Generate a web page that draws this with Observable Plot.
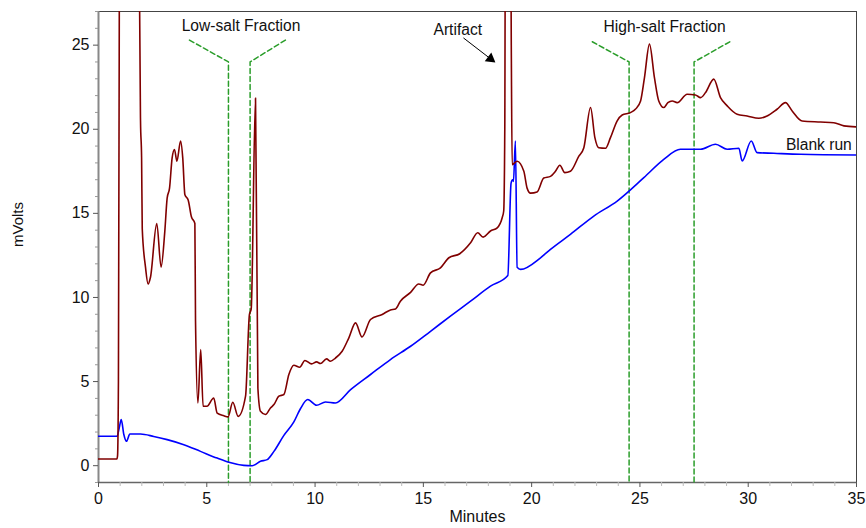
<!DOCTYPE html>
<html>
<head>
<meta charset="utf-8">
<script src="https://cdn.jsdelivr.net/npm/d3@7"></script>
<script src="https://cdn.jsdelivr.net/npm/@observablehq/plot@0.6"></script>
<style>
  html, body { margin: 0; padding: 0; background: #fff; }
  #chart { width: 866px; height: 528px; }
</style>
</head>
<body>
<div id="chart"></div>
<script>
// ---- data (minutes, mVolts) ----
const sampleMinutes = [0,0.85,0.88,0.92,0.96,1.0,1.85,1.9,1.94,1.99,2.02,2.17,2.29,2.4,2.69,2.89,3.06,3.17,3.28,3.40,3.51,3.62,3.79,3.89,3.99,4.14,4.29,4.45,4.48,4.59,4.72,4.83,5.01,5.32,5.48,5.79,5.98,6.2,6.45,6.79,6.97,7.05,7.25,7.36,7.48,7.71,7.94,8.1,8.33,8.56,8.79,9.02,9.29,9.53,9.84,10.07,10.25,10.53,10.71,10.94,11.25,11.56,11.87,12.17,12.56,13.1,13.48,13.71,13.94,14.41,14.79,14.99,15.33,15.79,16.18,16.68,17.18,17.51,17.76,18.1,18.41,18.64,18.71,18.76,18.8,19.0,19.06,19.1,19.33,19.64,19.79,19.95,20.25,20.56,20.87,21.1,21.3,21.53,21.79,22.18,22.41,22.72,22.92,23.1,23.41,23.64,23.95,24.18,24.56,24.8,25.03,25.21,25.44,25.67,25.87,26.1,26.29,26.49,26.72,27.18,27.56,27.8,28.03,28.41,28.72,29.03,29.49,29.95,30.49,30.87,31.33,31.72,32.03,32.49,33.34,33.95,34.42,35];
const sampleMv = [0.4,0.4,0.6,5,27,60,60,27,20.5,18.3,14.1,11.8,10.8,11.2,14.4,11.8,13.9,15.9,16.5,18.3,18.8,18.1,19.3,18.3,16.1,15.8,14.8,14.4,8.6,3.73,6.9,3.53,3.53,4.02,3.13,2.97,2.9,3.77,2.93,4.13,9.0,9.3,21.85,4.6,3.23,3.04,3.43,3.63,4.13,4.23,5.42,5.97,5.85,6.25,6.05,6.17,6.07,6.35,6.21,6.4,6.8,7.6,8.49,7.65,8.69,8.99,9.26,9.32,9.78,10.3,10.8,10.73,11.46,11.76,12.36,12.6,13.25,13.85,13.59,13.95,14.14,14.74,15.14,20,40,40,25,17.9,18.1,17.5,16.5,16.2,16.27,17.1,17.2,17.5,17.86,17.42,17.5,18.4,18.9,21.29,19.5,18.9,18.87,19.5,20.5,20.85,20.99,21.2,21.68,23.07,25.06,23.07,21.68,21.29,21.58,21.68,21.58,22.08,22.04,21.88,22.18,22.98,21.88,21.39,20.89,20.79,20.65,20.79,21.19,21.58,21.09,20.49,20.43,20.39,20.2,20.14];

const blankMinutes = [0,0.86,0.95,1.05,1.17,1.29,1.45,1.94,2.55,3.17,3.94,4.71,5.48,6.02,6.71,7.1,7.48,7.79,8.1,8.56,9.02,9.33,9.66,10.07,10.48,10.94,11.64,12.56,13.48,14.41,15.33,16.25,17.18,18.1,18.9,19.05,19.12,19.16,19.25,19.33,19.49,20.41,20.87,21.79,22.87,23.95,25.18,26.1,26.87,27.8,28.49,29.03,29.57,29.72,30.14,30.41,31.18,32.41,35];
const blankMv = [1.75,1.75,2.2,2.74,1.85,1.45,1.88,1.88,1.74,1.55,1.25,0.85,0.45,0.2,0.02,0.0,0.26,0.36,0.85,1.8,2.6,3.4,3.93,3.59,3.79,3.73,4.52,5.42,6.31,7.1,7.99,8.89,9.78,10.67,11.3,16.8,17.0,16.9,19.3,11.8,11.67,12.36,12.86,13.75,14.84,15.73,17.12,18.21,18.81,18.81,19.11,18.81,18.87,18.11,19.3,18.61,18.57,18.51,18.47];

// fraction markers: [minutes, mVolts] paths
const lowSaltLeft   = [[4.2, 25.3], [6.0, 24.0], [6.0, -1]];
const lowSaltRight  = [[8.63, 25.3], [7.0, 24.0], [7.0, -1]];
const highSaltLeft  = [[22.8, 25.2], [24.5, 24.0], [24.5, -1]];
const highSaltRight = [[29.15, 25.2], [27.5, 24.0], [27.5, -1]];

// annotation labels and anchor positions (minutes, mVolts)
const labelTexts = ["Low-salt Fraction", "Artifact", "High-salt Fraction", "Blank run"];
const labelMinutes = [6.58, 16.59, 26.14, 33.26];
const labelMv = [26.15, 25.9, 26.1, 19.07];
const arrowFrom = [16.85, 25.43];
const arrowHead = [18.10, 24.19];

// axes
const xDomain = [0, 35];
const yDomain = [-1, 27];
const xMajor = [0, 5, 10, 15, 20, 25, 30, 35];
const xMinor = d3.range(0, 36).filter(d => d % 5 !== 0);
const yMajor = [0, 5, 10, 15, 20, 25];
const yMinor = d3.range(-1, 28).filter(d => d % 5 !== 0);

const sample = sampleMinutes.map((t, i) => ({t, v: sampleMv[i]}));
const blank = blankMinutes.map((t, i) => ({t, v: blankMv[i]}));
const fractions = [lowSaltLeft, lowSaltRight, highSaltLeft, highSaltRight]
  .flatMap((path, k) => path.map(([t, v]) => ({t, v, k})));
const labels = labelTexts.map((text, i) => ({text, t: labelMinutes[i], v: labelMv[i]}));

const font = "'Liberation Sans', Arial, Helvetica, sans-serif";

const chart = Plot.plot({
  width: 866,
  height: 528,
  marginLeft: 98,
  marginRight: 10,
  marginTop: 11,
  marginBottom: 46,
  style: {fontFamily: font, background: "#fff", color: "#111", overflow: "visible"},
  x: {domain: xDomain},
  y: {domain: yDomain},
  marks: [
    Plot.frame({stroke: "#444", strokeWidth: 1}),
    Plot.ruleX([xDomain[0]], {stroke: "#888", strokeWidth: 2}),
    Plot.ruleY([yDomain[0]], {stroke: "#666", strokeWidth: 1.5}),
    Plot.axisX({ticks: xMinor, tickSize: 4, tickFormat: () => "", stroke: "#bbb", label: null}),
    Plot.axisX({ticks: xMajor, tickSize: 5, tickPadding: 5, fontSize: 16, stroke: "#555", label: null}),
    Plot.axisY({ticks: yMinor, tickSize: 3, tickFormat: () => "", stroke: "#999", label: null}),
    Plot.axisY({ticks: yMajor, tickSize: 5, tickPadding: 4, fontSize: 16, stroke: "#555", label: null}),
    Plot.line(fractions, {x: "t", y: "v", z: "k", stroke: "#2a9d2a", strokeWidth: 1.5, strokeDasharray: "5,3"}),
    Plot.line(blank, {x: "t", y: "v", stroke: "#0000ff", strokeWidth: 1.6, curve: "monotone-x", clip: true}),
    Plot.line(sample, {x: "t", y: "v", stroke: "#800000", strokeWidth: 1.6, curve: "monotone-x", clip: true}),
    Plot.link([{a: arrowFrom, b: arrowHead}], {x1: d => d.a[0], y1: d => d.a[1], x2: d => d.b[0], y2: d => d.b[1], stroke: "#000", strokeWidth: 1}),
    Plot.dot([arrowHead], {x: d => d[0], y: d => d[1], symbol: "triangle", r: 4, fill: "#000", stroke: "none", rotate: 127.7}),
    Plot.text(labels, {x: "t", y: "v", text: "text", fontSize: 15.6, fill: "#111"}),
    Plot.text(["Minutes"], {frameAnchor: "bottom", dy: 39, fontSize: 16, fill: "#111"}),
    Plot.text(["mVolts"], {frameAnchor: "left", dx: -80, rotate: -90, fontSize: 15, fill: "#111"})
  ]
});
document.getElementById("chart").appendChild(chart);
</script>
</body>
</html>
